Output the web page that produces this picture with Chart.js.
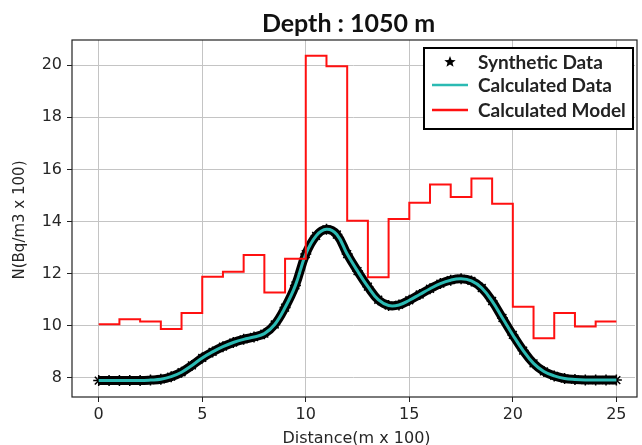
<!DOCTYPE html>
<html>
<head>
<meta charset="utf-8">
<script src="https://cdn.jsdelivr.net/npm/chart.js@4"></script>
<style>
  html, body { margin: 0; padding: 0; background: #fff; }
  #wrap { width: 642px; height: 445px; position: relative; }
</style>
</head>
<body>
<div id="wrap"><canvas id="depthChart" width="642" height="445"></canvas></div>
<script>
// distance grid for the data curves (m x 100)
const curveX = [0, 0.5, 1, 1.5, 2, 2.5, 3, 3.5, 4, 4.5, 5, 5.5, 6, 6.5, 7, 7.5, 8, 8.5, 9, 9.5,
    10, 10.5, 11, 11.5, 12, 12.5, 13, 13.5, 14, 14.5, 15, 15.5, 16, 16.5, 17, 17.5, 18, 18.5, 19, 19.5,
    20, 20.5, 21, 21.5, 22, 22.5, 23, 23.5, 24, 24.5, 25];
const syntheticData = [7.9, 7.9, 7.9, 7.9, 7.9, 7.92, 7.95, 8.05, 8.22, 8.48, 8.77, 9.0, 9.2, 9.36, 9.48, 9.57, 9.7, 10.05, 10.7, 11.55,
    12.75, 13.45, 13.7, 13.5, 12.75, 12.1, 11.5, 11.0, 10.78, 10.8, 10.98, 11.2, 11.42, 11.62, 11.75, 11.8, 11.72, 11.45, 10.95, 10.3,
    9.65, 9.05, 8.56, 8.25, 8.08, 7.98, 7.94, 7.92, 7.92, 7.92, 7.92];
const calculatedData = [7.9, 7.9, 7.9, 7.9, 7.9, 7.92, 7.95, 8.05, 8.22, 8.48, 8.77, 9.0, 9.2, 9.36, 9.48, 9.57, 9.7, 10.05, 10.7, 11.55,
    12.75, 13.45, 13.7, 13.5, 12.75, 12.1, 11.5, 11.0, 10.78, 10.8, 10.98, 11.2, 11.42, 11.62, 11.75, 11.8, 11.72, 11.45, 10.95, 10.3,
    9.65, 9.05, 8.56, 8.25, 8.08, 7.98, 7.94, 7.92, 7.92, 7.92, 7.92];

// model blocks: one value per unit of distance, starting at modelStart
const modelStart = [0, 1, 2, 3, 4, 5, 6, 7, 8, 9, 10, 11, 12, 13, 14, 15, 16, 17, 18, 19, 20, 21, 22, 23, 24];
const modelValues = [10.06, 10.25, 10.17, 9.88, 10.49, 11.88, 12.07, 12.72, 11.28, 12.57,
    20.36, 19.95, 14.03, 11.86, 14.1, 14.72, 15.42, 14.94, 15.65, 14.68,
    10.73, 9.52, 10.49, 9.97, 10.17];
const modelEnd = 25;

const xTicks = [0, 5, 10, 15, 20, 25];
const yTicks = [8, 10, 12, 14, 16, 18, 20];

const titleText = 'Depth : 1050 m';
const xLabel = 'Distance(m x 100)';
const yLabel = 'N(Bq/m3 x 100)';

const tickFont = { family: '"DejaVu Sans"', size: 16 };

// each block starts at its point; repeat the last value to close the final block
const modelPoints = modelStart.map((x, i) => ({ x, y: modelValues[i] }));
modelPoints.push({ x: modelEnd, y: modelValues[modelValues.length - 1] });

// frame, title, axis labels and the boxed legend
const decorPlugin = {
    id: 'decor',
    afterDatasetsDraw(chart) {
        const ctx = chart.ctx;
        const a = chart.chartArea;
        ctx.save();
        ctx.strokeStyle = '#222';
        ctx.lineWidth = 1.2;
        ctx.strokeRect(a.left, a.top, a.right - a.left + 2, a.bottom - a.top);

        const cx = (a.left + a.right) / 2;
        ctx.fillStyle = '#111';
        ctx.font = 'bold 25px Lato';
        ctx.textAlign = 'center';
        ctx.textBaseline = 'alphabetic';
        ctx.fillText(titleText, cx - 5, 32);

        ctx.fillStyle = '#262626';
        ctx.font = '16px "DejaVu Sans"';
        ctx.textBaseline = 'middle';
        ctx.fillText(xLabel, cx + 3, 439);
        ctx.font = '15px "DejaVu Sans"';
        ctx.translate(20, 220);
        ctx.rotate(-Math.PI / 2);
        ctx.fillText(yLabel, 0, 0);
        ctx.restore();

        // legend
        ctx.save();
        const bx = 424, by = 48, bw = 209, bh = 81;
        ctx.fillStyle = '#fff';
        ctx.fillRect(bx, by, bw, bh);
        ctx.strokeStyle = '#000';
        ctx.lineWidth = 2;
        ctx.strokeRect(bx, by, bw, bh);
        const rows = [62, 85, 110];
        chart.data.datasets.forEach((ds, i) => {
            const y = rows[i];
            if (ds.legendStyle === 'star') {
                ctx.fillStyle = '#000';
                ctx.beginPath();
                for (let k = 0; k < 10; k++) {
                    const r = k % 2 === 0 ? 6 : 2.6;
                    const ang = -Math.PI / 2 + k * Math.PI / 5;
                    const px = 450 + r * Math.cos(ang);
                    const py = y + r * Math.sin(ang);
                    if (k === 0) ctx.moveTo(px, py); else ctx.lineTo(px, py);
                }
                ctx.closePath();
                ctx.fill();
            } else {
                ctx.strokeStyle = ds.borderColor;
                ctx.lineWidth = 2.5;
                ctx.beginPath();
                ctx.moveTo(432, y);
                ctx.lineTo(468, y);
                ctx.stroke();
            }
            ctx.fillStyle = '#222';
            ctx.font = 'bold 19px Lato';
            ctx.textAlign = 'left';
            ctx.textBaseline = 'middle';
            ctx.fillText(ds.label, 478, y + 1);
        });
        ctx.restore();
    }
};

new Chart(document.getElementById('depthChart'), {
    type: 'line',
    data: {
        datasets: [{
            label: 'Synthetic Data',
            legendStyle: 'star',
            data: curveX.map((x, i) => ({ x, y: syntheticData[i] })),
            borderColor: '#000',
            borderWidth: 9,
            tension: 0.4,
            pointStyle: 'star',
            pointRadius: 5.5,
            pointBorderColor: '#000',
            pointBorderWidth: 1.5,
            pointBackgroundColor: '#000',
            order: 3
        }, {
            label: 'Calculated Data',
            legendStyle: 'line',
            data: curveX.map((x, i) => ({ x, y: calculatedData[i] })),
            borderColor: '#2bbab3',
            borderWidth: 3,
            tension: 0.4,
            pointRadius: 0,
            order: 2
        }, {
            label: 'Calculated Model',
            legendStyle: 'line',
            data: modelPoints,
            borderColor: '#ff1010',
            borderWidth: 2,
            stepped: 'before',
            pointRadius: 0,
            order: 1
        }]
    },
    options: {
        responsive: false,
        animation: false,
        layout: { padding: { top: 40, right: 0, left: 0, bottom: 0 } },
        plugins: {
            legend: { display: false },
            title: { display: false },
            tooltip: { enabled: false }
        },
        scales: {
            x: {
                type: 'linear',
                min: -1.29,
                max: 25.9,
                afterBuildTicks: scale => { scale.ticks = xTicks.map(v => ({ value: v })); },
                afterFit: scale => { scale.height = 48; },
                grid: { color: '#c4c4c4', lineWidth: 1, tickColor: '#222', tickLength: 5 },
                border: { display: false },
                ticks: { font: tickFont, color: '#262626', padding: 3, maxRotation: 0 }
            },
            y: {
                min: 7.27,
                max: 20.96,
                afterBuildTicks: scale => { scale.ticks = yTicks.map(v => ({ value: v })); },
                afterFit: scale => { scale.width = 72; },
                grid: { color: '#c4c4c4', lineWidth: 1, tickColor: '#222', tickLength: 5 },
                border: { display: false },
                ticks: { font: tickFont, color: '#262626', padding: 5 }
            }
        }
    },
    plugins: [decorPlugin]
});
</script>
</body>
</html>
